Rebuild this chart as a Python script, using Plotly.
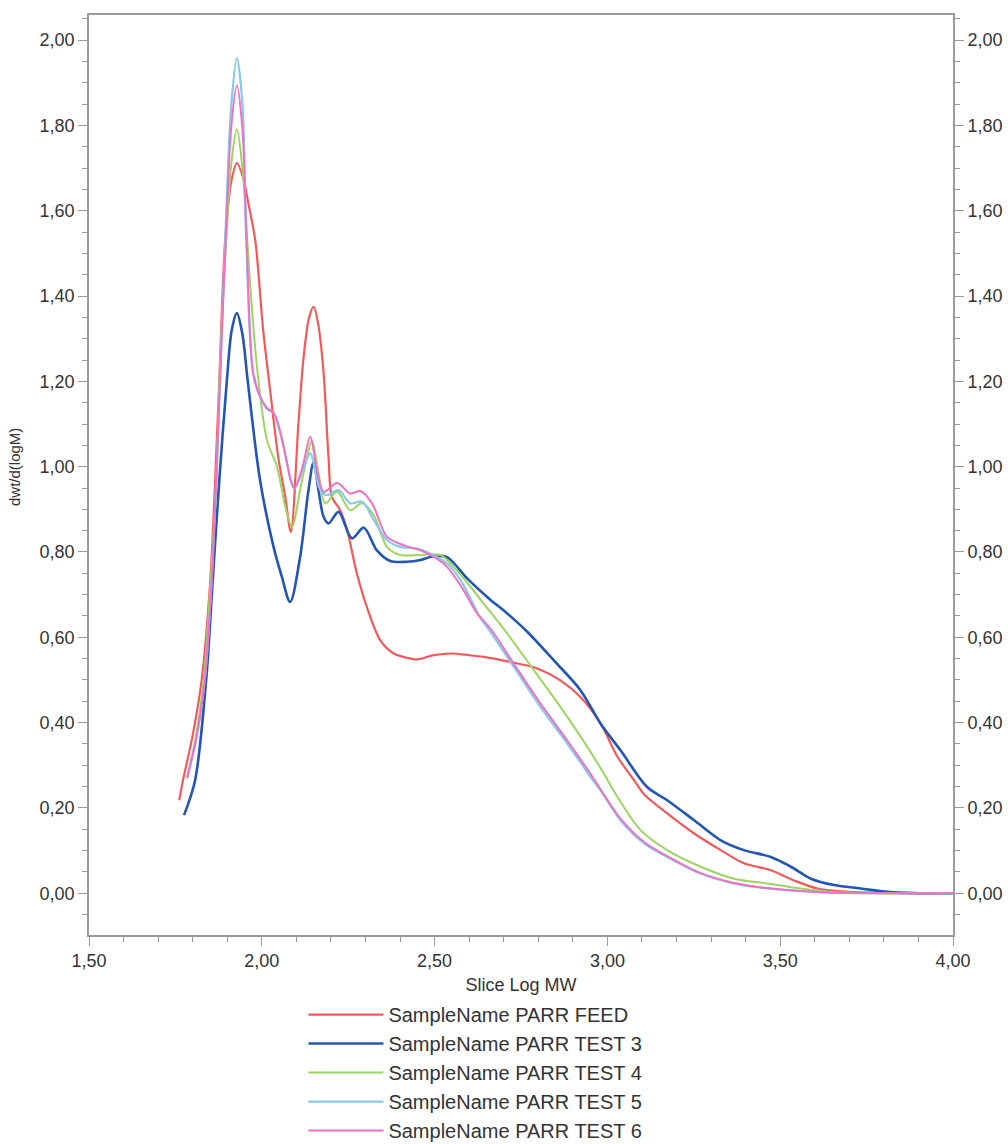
import plotly.graph_objects as go

# ---- data ----
series_names = ["SampleName PARR FEED", "SampleName PARR TEST 3", "SampleName PARR TEST 4",
                "SampleName PARR TEST 5", "SampleName PARR TEST 6"]
series_colors = ["#f25a5a", "#2356b3", "#9ed462", "#86c9ea", "#ee72c4"]
series_widths = [2.2, 2.6, 2.0, 2.2, 2.0]
y_title = "dwt/d(logM)"
x_title = "Slice Log MW"

feed_x = [1.761, 1.772, 1.800, 1.826, 1.851, 1.865, 1.877, 1.894, 1.912, 1.928, 1.945, 1.961, 1.981,
          2.004, 2.024, 2.048, 2.068, 2.084, 2.106, 2.121, 2.137, 2.150, 2.164, 2.179, 2.193, 2.203,
          2.227, 2.247, 2.275, 2.304, 2.343, 2.382, 2.420, 2.449, 2.497, 2.550, 2.600, 2.642, 2.720,
          2.797, 2.864, 2.922, 2.980, 3.029, 3.077, 3.106, 3.173, 3.251, 3.328, 3.395, 3.473, 3.540,
          3.608, 3.705, 3.850, 4.000]
feed_y = [0.218, 0.265, 0.370, 0.500, 0.734, 0.968, 1.203, 1.531, 1.670, 1.712, 1.680, 1.618, 1.531,
          1.320, 1.180, 1.020, 0.929, 0.847, 1.101, 1.257, 1.350, 1.375, 1.330, 1.218, 1.023, 0.929,
          0.898, 0.851, 0.750, 0.671, 0.593, 0.562, 0.552, 0.548, 0.558, 0.562, 0.558, 0.554, 0.542,
          0.527, 0.499, 0.460, 0.398, 0.320, 0.265, 0.232, 0.187, 0.140, 0.101, 0.070, 0.054, 0.030,
          0.011, 0.003, 0.000, 0.000]

t3_x = [1.775, 1.807, 1.839, 1.858, 1.877, 1.899, 1.913, 1.928, 1.944, 1.959, 1.995, 2.034, 2.058,
        2.082, 2.111, 2.135, 2.150, 2.164, 2.179, 2.193, 2.222, 2.261, 2.295, 2.333, 2.372, 2.420,
        2.459, 2.497, 2.536, 2.594, 2.657, 2.710, 2.768, 2.845, 2.922, 2.980, 3.038, 3.115, 3.173,
        3.251, 3.328, 3.395, 3.473, 3.531, 3.589, 3.656, 3.733, 3.811, 3.900, 4.000]
t3_y = [0.183, 0.265, 0.500, 0.734, 0.968, 1.203, 1.320, 1.360, 1.310, 1.203, 0.968, 0.812, 0.742,
        0.683, 0.789, 0.945, 1.011, 0.945, 0.882, 0.867, 0.894, 0.832, 0.857, 0.804, 0.779, 0.777,
        0.781, 0.790, 0.788, 0.738, 0.691, 0.656, 0.613, 0.546, 0.476, 0.398, 0.335, 0.249, 0.218,
        0.171, 0.124, 0.101, 0.085, 0.062, 0.034, 0.019, 0.011, 0.003, 0.000, 0.000]

t4_x = [1.784, 1.810, 1.832, 1.852, 1.869, 1.878, 1.897, 1.913, 1.928, 1.944, 1.958, 1.971, 1.988,
        2.015, 2.044, 2.068, 2.087, 2.112, 2.130, 2.145, 2.165, 2.184, 2.218, 2.256, 2.290, 2.324,
        2.362, 2.401, 2.459, 2.517, 2.555, 2.604, 2.642, 2.710, 2.787, 2.864, 2.942, 2.990, 3.029,
        3.096, 3.173, 3.270, 3.366, 3.463, 3.560, 3.656, 3.800, 4.000]
t4_y = [0.270, 0.370, 0.500, 0.734, 0.968, 1.219, 1.531, 1.720, 1.791, 1.700, 1.531, 1.375, 1.219,
        1.062, 1.000, 0.906, 0.859, 0.950, 1.020, 1.062, 0.980, 0.914, 0.941, 0.898, 0.914, 0.886,
        0.812, 0.793, 0.793, 0.793, 0.765, 0.718, 0.679, 0.609, 0.523, 0.437, 0.343, 0.280, 0.226,
        0.148, 0.101, 0.062, 0.034, 0.023, 0.011, 0.003, 0.000, 0.000]

t5_x = [1.784, 1.812, 1.835, 1.855, 1.868, 1.880, 1.894, 1.912, 1.928, 1.944, 1.955, 1.975, 1.995,
        2.015, 2.035, 2.050, 2.063, 2.094, 2.118, 2.140, 2.169, 2.188, 2.222, 2.256, 2.290, 2.324,
        2.362, 2.401, 2.449, 2.488, 2.536, 2.575, 2.604, 2.633, 2.662, 2.729, 2.806, 2.884, 2.951,
        2.980, 3.038, 3.106, 3.173, 3.270, 3.366, 3.463, 3.560, 3.656, 3.800, 4.000]
t5_y = [0.270, 0.370, 0.500, 0.734, 0.968, 1.219, 1.531, 1.850, 1.958, 1.850, 1.531, 1.219, 1.163,
        1.135, 1.125, 1.090, 1.046, 0.949, 0.990, 1.031, 0.945, 0.933, 0.945, 0.914, 0.918, 0.875,
        0.828, 0.812, 0.808, 0.796, 0.773, 0.734, 0.690, 0.645, 0.612, 0.531, 0.437, 0.351, 0.273,
        0.241, 0.171, 0.117, 0.085, 0.046, 0.023, 0.011, 0.005, 0.001, 0.000, 0.000]

t6_x = [1.784, 1.812, 1.835, 1.855, 1.868, 1.880, 1.895, 1.912, 1.928, 1.944, 1.956, 1.975, 1.995,
        2.015, 2.035, 2.050, 2.063, 2.094, 2.118, 2.140, 2.160, 2.179, 2.218, 2.256, 2.285, 2.319,
        2.362, 2.410, 2.459, 2.497, 2.536, 2.584, 2.623, 2.662, 2.729, 2.806, 2.884, 2.951, 3.038,
        3.106, 3.173, 3.270, 3.366, 3.463, 3.560, 3.656, 3.800, 4.000]
t6_y = [0.270, 0.370, 0.500, 0.734, 0.968, 1.219, 1.520, 1.800, 1.894, 1.790, 1.531, 1.219, 1.165,
        1.138, 1.125, 1.092, 1.048, 0.950, 1.000, 1.070, 0.990, 0.941, 0.962, 0.937, 0.943, 0.914,
        0.836, 0.816, 0.804, 0.789, 0.765, 0.710, 0.656, 0.620, 0.538, 0.445, 0.358, 0.280, 0.175,
        0.120, 0.087, 0.047, 0.024, 0.012, 0.005, 0.001, 0.000, 0.000]

x_tickvals = [1.5, 2.0, 2.5, 3.0, 3.5, 4.0]
y_tickvals = [0.0, 0.2, 0.4, 0.6, 0.8, 1.0, 1.2, 1.4, 1.6, 1.8, 2.0]
x_range = [1.5, 4.0]
y_range = [-0.098, 2.059]

all_x = [feed_x, t3_x, t4_x, t5_x, t6_x]
all_y = [feed_y, t3_y, t4_y, t5_y, t6_y]

# ---- figure ----
fig = go.Figure()
for name, xs, ys, col, w in zip(series_names, all_x, all_y, series_colors, series_widths):
    fig.add_trace(go.Scatter(x=xs, y=ys, mode="lines", name=name,
                             line=dict(color=col, width=w, shape="spline", smoothing=0.9),
                             legendgroup=name))

# invisible copy to anchor the right-hand axis
fig.add_trace(go.Scatter(x=feed_x, y=feed_y, mode="lines", yaxis="y2", showlegend=False,
                         hoverinfo="skip", line=dict(width=0, color="rgba(0,0,0,0)")))

axis_col = "#9a9a9a"
tick_font = dict(family="Liberation Sans, Arial, sans-serif", size=18, color="#333333")

fig.update_layout(
    width=1008, height=1144,
    margin=dict(l=89, r=55, t=15, b=209, autoexpand=False),
    paper_bgcolor="white", plot_bgcolor="white",
    separators=",.",
    font=dict(family="Liberation Sans, Arial, sans-serif", color="#333333"),
    xaxis=dict(range=x_range, tickvals=x_tickvals, tickformat=".2f", ticks="outside",
               ticklen=9, tickwidth=1.3, tickcolor=axis_col, showline=True, linecolor=axis_col,
               linewidth=1.6, mirror=True, showgrid=False, zeroline=False, automargin=True,
               minor=dict(dtick=0.1, tick0=1.5, ticks="outside", ticklen=5, tickcolor=axis_col),
               tickfont=tick_font,
               title=dict(text=x_title, font=dict(size=18, color="#333333"), standoff=8)),
    yaxis=dict(range=y_range, tickvals=y_tickvals, tickformat=".2f", ticks="outside",
               ticklen=9, tickwidth=1.3, tickcolor=axis_col, showline=True, linecolor=axis_col,
               linewidth=1.6, showgrid=False, zeroline=False, automargin=False,
               minor=dict(dtick=0.05, tick0=0, ticks="outside", ticklen=5, tickcolor=axis_col),
               tickfont=tick_font),
    yaxis2=dict(range=y_range, tickvals=y_tickvals, tickformat=".2f", ticks="outside",
                overlaying="y", side="right", automargin=False,
                ticklen=9, tickwidth=1.3, tickcolor=axis_col, showline=True, linecolor=axis_col,
                linewidth=1.6, showgrid=False, zeroline=False,
                minor=dict(dtick=0.05, tick0=0, ticks="outside", ticklen=5, tickcolor=axis_col),
                tickfont=tick_font),
    legend=dict(xref="container", yref="container", x=0.301, y=0.1302,
                xanchor="left", yanchor="top", orientation="v",
                font=dict(size=20, color="#333333"), itemwidth=75, tracegroupgap=0,
                bgcolor="rgba(0,0,0,0)"),
    showlegend=True,
    annotations=[dict(text=y_title, textangle=-90, xref="paper", yref="paper",
                      x=-0.0856, y=0.5087, xanchor="center", yanchor="middle",
                      showarrow=False, font=dict(size=15, color="#333333"))],
)

fig.write_html("out.html", config={"displayModeBar": False},
               post_script="document.body.style.margin='0';")
